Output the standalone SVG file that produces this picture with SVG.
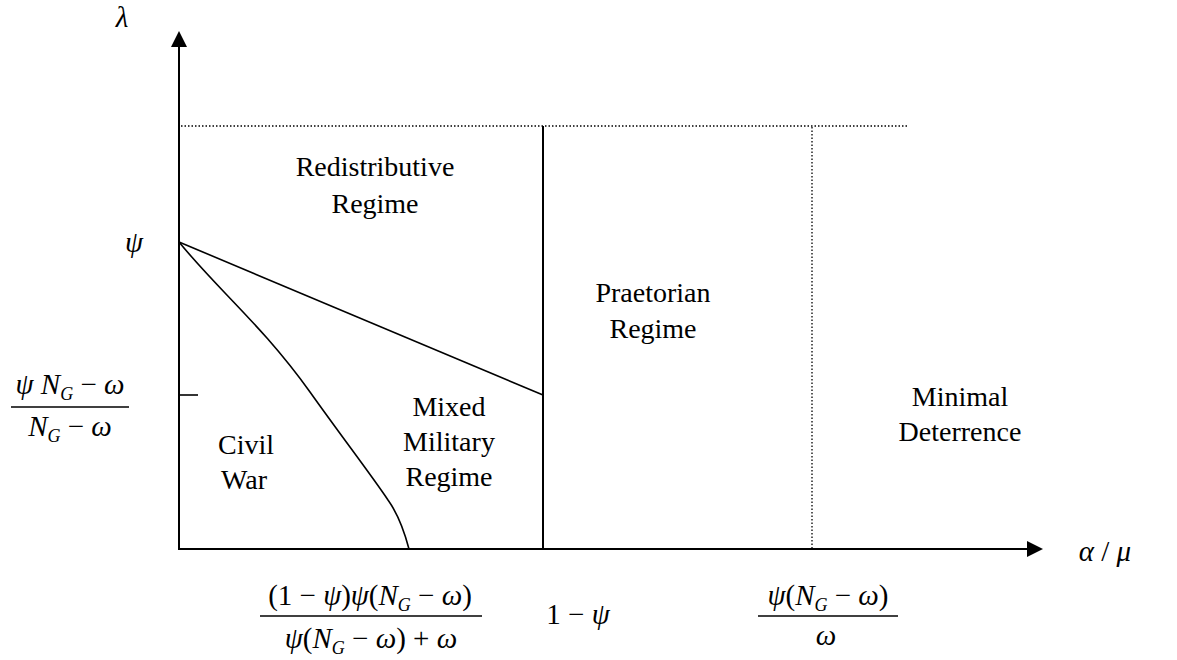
<svg xmlns="http://www.w3.org/2000/svg" width="1177" height="660" viewBox="0 0 1177 660">
<style>
.t{font-family:"Liberation Serif","DejaVu Serif",serif;font-size:28px;fill:#000;text-anchor:middle}
.m{font-family:"Liberation Serif","DejaVu Serif",serif;font-size:29px;fill:#000}
.i{font-style:italic}
.s{font-size:18px;font-style:italic}
.ax{stroke:#000;stroke-width:2;fill:none}
.ln{stroke:#000;stroke-width:1.6;fill:none}
.dot{stroke:#000;stroke-width:1.3;stroke-dasharray:1.5 2;fill:none}
</style>
<rect width="1177" height="660" fill="#fff"/>
<g id="connectors">
<line class="ax" x1="179" y1="549" x2="179" y2="44"/>
<polygon points="179,31 171,47 187,47" fill="#000"/>
<line class="ax" x1="178" y1="549" x2="1030" y2="549"/>
<polygon points="1043,549 1027,541 1027,557" fill="#000"/>
<line class="dot" x1="181" y1="126" x2="909" y2="126"/>
<line class="dot" x1="812" y1="127" x2="812" y2="548"/>
<line class="ax" x1="543" y1="126" x2="543" y2="549"/>
<line class="ln" x1="179" y1="242" x2="543" y2="395"/>
<line class="ln" x1="179" y1="395" x2="198" y2="395"/>
<path class="ln" d="M179,242 C218,290 262,325 310,392 C342,437 372,476 388,500 C398,514 404,530 409,549"/>
</g>
<g id="axis-labels">
<text class="m i" x="122" y="27" text-anchor="middle">λ</text>
<text class="m i" x="134" y="252" text-anchor="middle">ψ</text>
<text class="m" x="1105" y="561" text-anchor="middle"><tspan class="i">α</tspan> / <tspan class="i">μ</tspan></text>
</g>
<g id="tick-left">
<text class="m" x="70" y="394" text-anchor="middle"><tspan class="i">ψ</tspan> <tspan class="i">N</tspan><tspan class="s" dy="6">G</tspan><tspan dy="-6"> − </tspan><tspan class="i">ω</tspan></text>
<line x1="11" y1="407" x2="129" y2="407" stroke="#000" stroke-width="1.5"/>
<text class="m" x="70" y="436" text-anchor="middle"><tspan class="i">N</tspan><tspan class="s" dy="6">G</tspan><tspan dy="-6"> − </tspan><tspan class="i">ω</tspan></text>
</g>
<g id="tick-b1">
<text class="m" x="370" y="605" text-anchor="middle">(1 − <tspan class="i">ψ</tspan>)<tspan class="i">ψ</tspan>(<tspan class="i">N</tspan><tspan class="s" dy="6">G</tspan><tspan dy="-6"> − </tspan><tspan class="i">ω</tspan>)</text>
<line x1="260" y1="616" x2="482" y2="616" stroke="#000" stroke-width="1.5"/>
<text class="m" x="371" y="648" text-anchor="middle"><tspan class="i">ψ</tspan>(<tspan class="i">N</tspan><tspan class="s" dy="6">G</tspan><tspan dy="-6"> − </tspan><tspan class="i">ω</tspan>) + <tspan class="i">ω</tspan></text>
</g>
<g id="tick-b2">
<text class="m" x="578" y="624" text-anchor="middle">1 − <tspan class="i">ψ</tspan></text>
</g>
<g id="tick-b3">
<text class="m" x="828" y="605" text-anchor="middle"><tspan class="i">ψ</tspan>(<tspan class="i">N</tspan><tspan class="s" dy="6">G</tspan><tspan dy="-6"> − </tspan><tspan class="i">ω</tspan>)</text>
<line x1="758" y1="616" x2="898" y2="616" stroke="#000" stroke-width="1.5"/>
<text class="m i" x="826" y="645" text-anchor="middle">ω</text>
</g>
<g id="redistributive">
<text class="t" x="375" y="176">Redistributive</text>
<text class="t" x="375" y="213">Regime</text>
</g>
<g id="praetorian">
<text class="t" x="653" y="302">Praetorian</text>
<text class="t" x="653" y="338">Regime</text>
</g>
<g id="minimal">
<text class="t" x="960" y="406">Minimal</text>
<text class="t" x="960" y="441">Deterrence</text>
</g>
<g id="civil">
<text class="t" x="246" y="454">Civil</text>
<text class="t" x="244" y="489">War</text>
</g>
<g id="mixed">
<text class="t" x="449" y="416">Mixed</text>
<text class="t" x="449" y="451">Military</text>
<text class="t" x="449" y="486">Regime</text>
</g>
</svg>
